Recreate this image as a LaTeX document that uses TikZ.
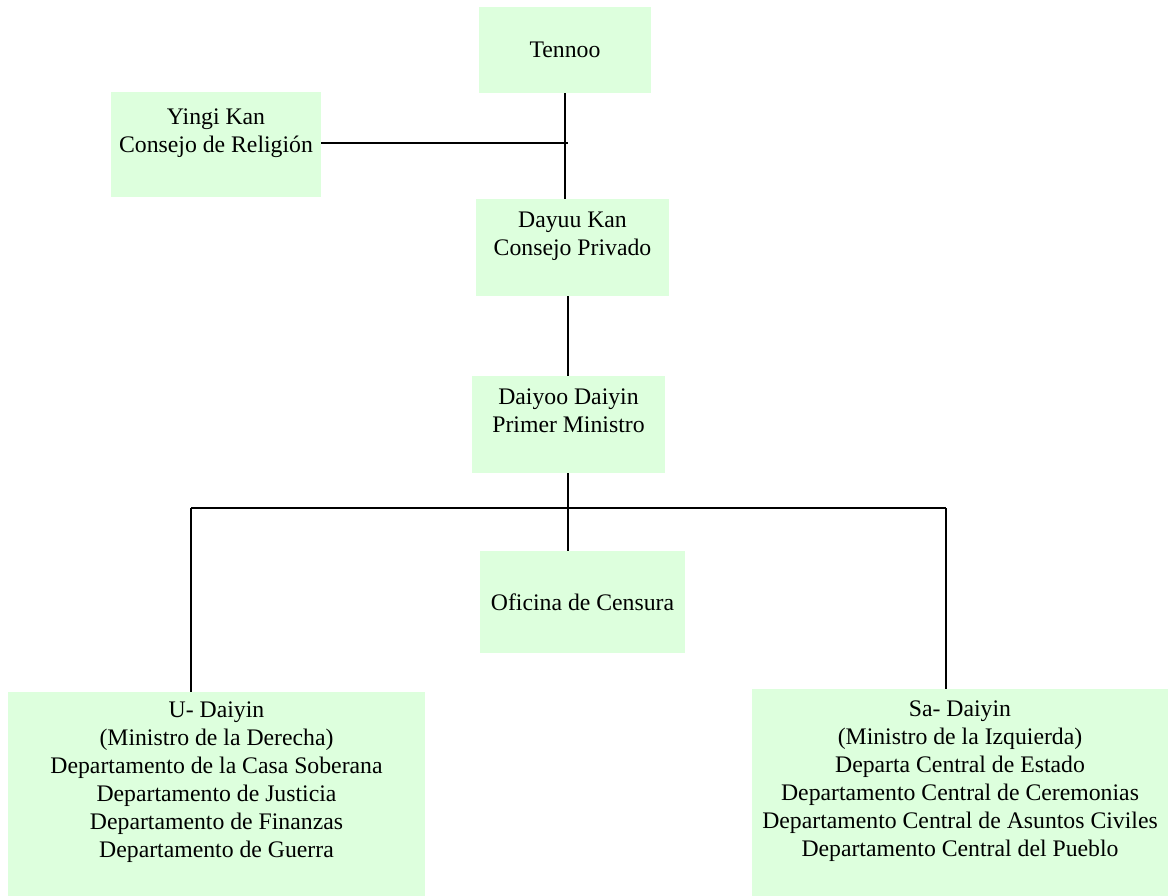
\documentclass[tikz,border=0pt]{standalone}
\usepackage{fontspec}
\setmainfont{Liberation Serif}
\definecolor{boxgreen}{RGB}{221,255,221}
\tikzset{
  orgbox/.style={fill=boxgreen,align=center,inner sep=0pt,font=\fontsize{17.8}{21}\selectfont},
  link/.style={line width=1.2pt}
}
\begin{document}
\begin{tikzpicture}[x=0.75pt,y=-0.75pt]
\useasboundingbox (0,0) rectangle (1168,896);

\node[orgbox,minimum width=129pt,minimum height=64.5pt] (tennoo) at (565,50) {Tennoo};
\node[orgbox,minimum width=157.5pt,minimum height=78.75pt] (yingi) at (216,144.5) {Yingi Kan\\Consejo de Religión\\\mbox{}};
\node[orgbox,minimum width=144.75pt,minimum height=72.75pt] (dayuu) at (572.5,247.5) {Dayuu Kan\\Consejo Privado\\\mbox{}};
\node[orgbox,minimum width=144.75pt,minimum height=72.75pt] (daiyoo) at (568.5,424.5) {Daiyoo Daiyin\\Primer Ministro\\\mbox{}};
\node[orgbox,minimum width=153.75pt,minimum height=76.5pt] (oficina) at (582.5,602) {Oficina de Censura};
\node[orgbox,minimum width=312.75pt,minimum height=153pt] (derecha) at (216.5,794) {U- Daiyin\\(Ministro de la Derecha)\\Departamento de la Casa Soberana\\Departamento de Justicia\\Departamento de Finanzas\\Departamento de Guerra\\\mbox{}};
\node[orgbox,minimum width=312pt,minimum height=155.25pt] (izquierda) at (960,792.5) {Sa- Daiyin\\(Ministro de la Izquierda)\\Departa Central de Estado\\Departamento Central de Ceremonias\\Departamento Central de Asuntos Civiles\\Departamento Central del Pueblo\\\mbox{}};

% junctions
\coordinate (cruce) at (568,143);
\coordinate (bus) at (568,508);
\coordinate (busL) at (191,508);
\coordinate (busR) at (946,508);

\draw[link] (tennoo.south) -- (tennoo.south |- dayuu.north);
\draw[link] (yingi.east |- cruce) -- (cruce);
\draw[link] (bus |- dayuu.south) -- (bus |- daiyoo.north);
\draw[link] (bus |- daiyoo.south) -- (bus);
\draw[link] (busL) -- (busR);
\draw[link] (bus) -- (bus |- oficina.north);
\draw[link] (busL) -- (busL |- derecha.north);
\draw[link] (busR) -- (busR |- izquierda.north);

\end{tikzpicture}
\end{document}
